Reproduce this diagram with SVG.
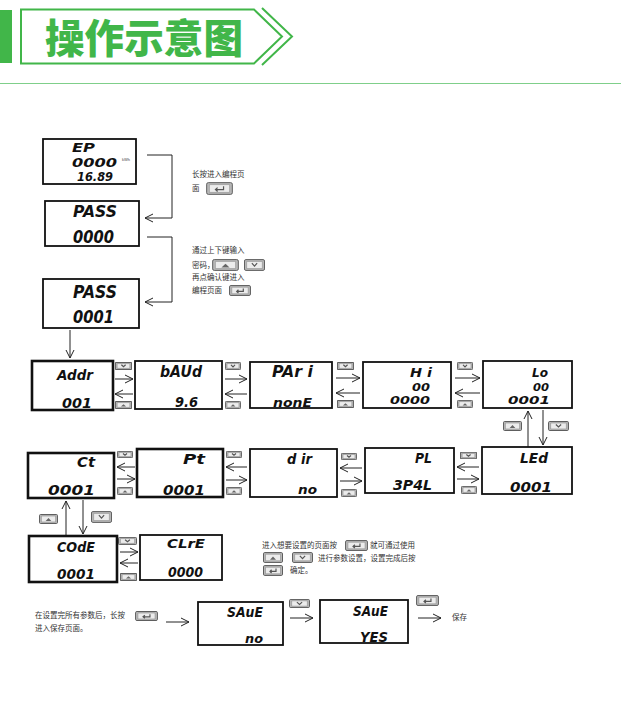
<svg xmlns="http://www.w3.org/2000/svg" xmlns:xlink="http://www.w3.org/1999/xlink" width="621" height="711" viewBox="0 0 621 711">
<style>
.box{fill:#fff;stroke:#111;stroke-width:1.8}
.thick{stroke-width:2.6}
.lcd{font-family:"DejaVu Sans","Liberation Sans",sans-serif;font-weight:bold;font-style:italic;fill:#111}
.cn{font-family:"Noto Sans CJK SC","Noto Sans",sans-serif;font-size:7.5px;fill:#333}
.ln{fill:none;stroke:#222;stroke-width:1}
.bf{fill:#b9b9b9;stroke:#5e5e5e;stroke-width:1;vector-effect:non-scaling-stroke}
.bi{fill:#ececec;stroke:#8a8a8a;stroke-width:.6;vector-effect:non-scaling-stroke}
.ic{fill:none;stroke:#555;stroke-width:1.2;vector-effect:non-scaling-stroke}
</style>
<defs>
<marker id="ah" markerUnits="userSpaceOnUse" markerWidth="10" markerHeight="10" refX="8" refY="4" orient="auto" viewBox="0 0 10 8">
<path d="M0,0 L8,4 L0,8" fill="none" stroke="#222" stroke-width="1"/>
</marker>
<symbol id="bUp" viewBox="0 0 20 10" preserveAspectRatio="none">
<rect class="bf" x="0.5" y="0.5" width="19" height="9" rx="1.2"/>
<rect class="bi" x="2.5" y="2" width="15" height="6"/>
<path d="M7,7 L10,4 L13,7 Z" fill="#666"/>
</symbol>
<symbol id="bDn" viewBox="0 0 20 10" preserveAspectRatio="none">
<rect class="bf" x="0.5" y="0.5" width="19" height="9" rx="1.2"/>
<rect class="bi" x="2.5" y="2" width="15" height="6"/>
<path class="ic" d="M7.5,3.5 L10,6 L12.5,3.5"/>
</symbol>
<symbol id="bEn" viewBox="0 0 20 10" preserveAspectRatio="none">
<rect class="bf" x="0.5" y="0.5" width="19" height="9" rx="1.2"/>
<rect class="bi" x="2.5" y="2" width="15" height="6"/>
<path class="ic" d="M13,3.2 V5.8 H7 M8.6,4.3 L7,5.8 L8.6,7.3"/>
</symbol>
</defs>
<rect width="621" height="711" fill="#fff"/>

<g id="header">
<rect x="0" y="10" width="12" height="53" fill="#41b649"/>
<path d="M21,9.5 H254 L282,36.5 L254,63.5 H21 Z" fill="none" stroke="#41b649" stroke-width="2"/>
<path d="M262,8 L292,36.5 L262,65" fill="none" stroke="#41b649" stroke-width="2"/>
<text x="45" y="53" font-family="Noto Sans CJK SC, sans-serif" font-weight="900" font-size="40" fill="#41b649" textLength="198" lengthAdjust="spacingAndGlyphs">操作示意图</text>
<line x1="0" y1="83.5" x2="621" y2="83.5" stroke="#7fcf8a" stroke-width="1"/>
</g>

<g id="connectors">
<polyline class="ln" points="147,155 172,155 172,218 145,218" marker-end="url(#ah)"/>
<polyline class="ln" points="147,237 172,237 172,302 145,302" marker-end="url(#ah)"/>
<line class="ln" x1="70" y1="330" x2="70" y2="358" marker-end="url(#ah)"/>
<line class="ln" x1="115" y1="379" x2="133" y2="379" marker-end="url(#ah)"/>
<line class="ln" x1="133" y1="394" x2="115" y2="394" marker-end="url(#ah)"/>
<line class="ln" x1="225" y1="379" x2="247" y2="379" marker-end="url(#ah)"/>
<line class="ln" x1="247" y1="394" x2="225" y2="394" marker-end="url(#ah)"/>
<line class="ln" x1="336" y1="378" x2="360" y2="378" marker-end="url(#ah)"/>
<line class="ln" x1="360" y1="393" x2="336" y2="393" marker-end="url(#ah)"/>
<line class="ln" x1="455" y1="378" x2="480" y2="378" marker-end="url(#ah)"/>
<line class="ln" x1="480" y1="393" x2="455" y2="393" marker-end="url(#ah)"/>
<line class="ln" x1="528" y1="447" x2="528" y2="411" marker-end="url(#ah)"/>
<line class="ln" x1="543" y1="410" x2="543" y2="445" marker-end="url(#ah)"/>
<line class="ln" x1="135" y1="467" x2="117" y2="467" marker-end="url(#ah)"/>
<line class="ln" x1="117" y1="479" x2="135" y2="479" marker-end="url(#ah)"/>
<line class="ln" x1="247" y1="467" x2="226" y2="467" marker-end="url(#ah)"/>
<line class="ln" x1="226" y1="480" x2="247" y2="480" marker-end="url(#ah)"/>
<line class="ln" x1="362" y1="468" x2="340" y2="468" marker-end="url(#ah)"/>
<line class="ln" x1="340" y1="481" x2="362" y2="481" marker-end="url(#ah)"/>
<line class="ln" x1="479" y1="467" x2="457" y2="467" marker-end="url(#ah)"/>
<line class="ln" x1="457" y1="479" x2="479" y2="479" marker-end="url(#ah)"/>
<line class="ln" x1="66" y1="535" x2="66" y2="501" marker-end="url(#ah)"/>
<line class="ln" x1="83" y1="500" x2="83" y2="534" marker-end="url(#ah)"/>
<line class="ln" x1="120" y1="552" x2="138" y2="552" marker-end="url(#ah)"/>
<line class="ln" x1="138" y1="563" x2="120" y2="563" marker-end="url(#ah)"/>
<line class="ln" x1="166" y1="622" x2="189" y2="622" marker-end="url(#ah)"/>
<line class="ln" x1="290" y1="618" x2="313" y2="618" marker-end="url(#ah)"/>
<line class="ln" x1="418" y1="618" x2="441" y2="618" marker-end="url(#ah)"/>
</g>

<g id="buttons">
<use xlink:href="#bEn" x="206" y="182" width="27" height="13"/>
<use xlink:href="#bUp" x="212" y="259" width="27" height="12"/>
<use xlink:href="#bDn" x="244" y="259" width="21" height="12"/>
<use xlink:href="#bEn" x="229" y="285" width="22" height="11"/>
<use xlink:href="#bDn" x="115" y="362" width="17" height="8"/>
<use xlink:href="#bUp" x="115" y="401" width="17" height="8"/>
<use xlink:href="#bDn" x="225" y="362" width="16" height="8"/>
<use xlink:href="#bUp" x="225" y="401" width="16" height="8"/>
<use xlink:href="#bDn" x="337" y="362" width="17" height="8"/>
<use xlink:href="#bUp" x="337" y="400" width="17" height="8"/>
<use xlink:href="#bDn" x="457" y="362" width="16" height="8"/>
<use xlink:href="#bUp" x="457" y="400" width="16" height="8"/>
<use xlink:href="#bUp" x="503" y="421" width="19" height="10"/>
<use xlink:href="#bDn" x="548" y="421" width="21" height="10"/>
<use xlink:href="#bDn" x="117" y="451" width="16" height="7"/>
<use xlink:href="#bUp" x="117" y="487" width="16" height="8"/>
<use xlink:href="#bDn" x="226" y="451" width="16" height="7"/>
<use xlink:href="#bUp" x="226" y="487" width="16" height="8"/>
<use xlink:href="#bDn" x="341" y="453" width="16" height="7"/>
<use xlink:href="#bUp" x="341" y="489" width="16" height="8"/>
<use xlink:href="#bDn" x="460" y="452" width="17" height="7"/>
<use xlink:href="#bUp" x="461" y="486" width="16" height="8"/>
<use xlink:href="#bUp" x="39" y="514" width="19" height="10"/>
<use xlink:href="#bDn" x="91" y="511" width="21" height="12"/>
<use xlink:href="#bDn" x="118" y="537" width="19" height="8"/>
<use xlink:href="#bUp" x="120" y="573" width="17" height="8"/>
<use xlink:href="#bEn" x="345" y="540" width="23" height="11"/>
<use xlink:href="#bUp" x="263" y="552" width="20" height="11"/>
<use xlink:href="#bDn" x="292" y="552" width="21" height="11"/>
<use xlink:href="#bEn" x="263" y="565" width="20" height="11"/>
<use xlink:href="#bEn" x="135" y="611" width="23" height="10"/>
<use xlink:href="#bDn" x="289" y="599" width="21" height="9"/>
<use xlink:href="#bEn" x="416" y="595" width="23" height="11"/>
</g>

<g id="notes">
<text class="cn" x="192" y="177">长按进入编程页</text>
<text class="cn" x="192" y="191">面</text>
<text class="cn" x="192" y="253">通过上下键输入</text>
<text class="cn" x="192" y="268">密码，</text>
<text class="cn" x="192" y="280">再点确认键进入</text>
<text class="cn" x="192" y="293">编程页面</text>
<text class="cn" x="262" y="548">进入想要设置的页面按</text>
<text class="cn" x="370" y="548">就可通过使用</text>
<text class="cn" x="318" y="561">进行参数设置，设置完成后按</text>
<text class="cn" x="290" y="573">确定。</text>
<text class="cn" x="35" y="618">在设置完所有参数后，长按</text>
<text class="cn" x="35" y="631">进入保存页面。</text>
<text class="cn" x="452" y="620" font-size="7">保存</text>
</g>

<g id="n-ep"><rect class="box" x="43" y="139" width="93" height="45"/>
<text class="lcd" x="72" y="152" font-size="12.5" textLength="23" lengthAdjust="spacingAndGlyphs">EP</text>
<text class="lcd" x="72" y="166.5" font-size="12.5" textLength="45" lengthAdjust="spacingAndGlyphs">0000</text>
<text x="122" y="161" font-family="Liberation Sans, sans-serif" font-size="4" fill="#444">kWh</text>
<text class="lcd" x="77" y="180.5" font-size="12" textLength="36" lengthAdjust="spacingAndGlyphs">16.89</text></g>

<g id="n-pass0"><rect class="box" x="45" y="201" width="94" height="45"/>
<text class="lcd" x="73" y="217" font-size="16" textLength="44" lengthAdjust="spacingAndGlyphs">PASS</text>
<text class="lcd" x="73" y="243" font-size="17" textLength="41" lengthAdjust="spacingAndGlyphs">0000</text></g>

<g id="n-pass1"><rect class="box" x="43" y="279" width="96" height="49"/>
<text class="lcd" x="73" y="298" font-size="17" textLength="44" lengthAdjust="spacingAndGlyphs">PASS</text>
<text class="lcd" x="73" y="323" font-size="17" textLength="41" lengthAdjust="spacingAndGlyphs">0001</text></g>

<g id="n-addr"><rect class="box thick" x="32" y="361" width="81" height="49"/>
<text class="lcd" x="57" y="380" font-size="14" textLength="36" lengthAdjust="spacingAndGlyphs">Addr</text>
<text class="lcd" x="62" y="408" font-size="14" textLength="30" lengthAdjust="spacingAndGlyphs">001</text></g>

<g id="n-baud"><rect class="box" x="135" y="361" width="87" height="48"/>
<text class="lcd" x="160" y="377" font-size="15" textLength="42" lengthAdjust="spacingAndGlyphs">bAUd</text>
<text class="lcd" x="175" y="407" font-size="14" textLength="23" lengthAdjust="spacingAndGlyphs">9.6</text></g>

<g id="n-pari"><rect class="box" x="250" y="362" width="82" height="46"/>
<text class="lcd" x="272" y="377" font-size="15" textLength="41" lengthAdjust="spacingAndGlyphs">PAr i</text>
<text class="lcd" x="273" y="407" font-size="13" textLength="39" lengthAdjust="spacingAndGlyphs">nonE</text></g>

<g id="n-hi"><rect class="box" x="363" y="362" width="88" height="46"/>
<text class="lcd" x="410" y="377" font-size="12" textLength="22" lengthAdjust="spacingAndGlyphs">H i</text>
<text class="lcd" x="412" y="390.5" font-size="11" textLength="18" lengthAdjust="spacingAndGlyphs">00</text>
<text class="lcd" x="390" y="404" font-size="11" textLength="40" lengthAdjust="spacingAndGlyphs">0000</text></g>

<g id="n-lo"><rect class="box" x="483" y="361" width="89" height="47"/>
<text class="lcd" x="532" y="377" font-size="12" textLength="16" lengthAdjust="spacingAndGlyphs">Lo</text>
<text class="lcd" x="533" y="390.5" font-size="11" textLength="16" lengthAdjust="spacingAndGlyphs">00</text>
<text class="lcd" x="508" y="404" font-size="11" textLength="42" lengthAdjust="spacingAndGlyphs">0001</text></g>

<g id="n-ct"><rect class="box thick" x="28" y="453" width="86" height="45"/>
<text class="lcd" x="77" y="467" font-size="14" textLength="18" lengthAdjust="spacingAndGlyphs">Ct</text>
<text class="lcd" x="48" y="495" font-size="14" textLength="47" lengthAdjust="spacingAndGlyphs">0001</text></g>

<g id="n-pt"><rect class="box thick" x="137" y="449" width="86" height="48"/>
<text class="lcd" x="183" y="464" font-size="14" textLength="22" lengthAdjust="spacingAndGlyphs">Pt</text>
<text class="lcd" x="163" y="495" font-size="14" textLength="42" lengthAdjust="spacingAndGlyphs">0001</text></g>

<g id="n-dir"><rect class="box" x="250" y="449" width="87" height="48"/>
<text class="lcd" x="287" y="464" font-size="14" textLength="25" lengthAdjust="spacingAndGlyphs">d ir</text>
<text class="lcd" x="298" y="494" font-size="13" textLength="19" lengthAdjust="spacingAndGlyphs">no</text></g>

<g id="n-pl"><rect class="box" x="365" y="448" width="89" height="45"/>
<text class="lcd" x="415" y="463" font-size="14" textLength="17" lengthAdjust="spacingAndGlyphs">PL</text>
<text class="lcd" x="393" y="490" font-size="14" textLength="39" lengthAdjust="spacingAndGlyphs">3P4L</text></g>

<g id="n-led"><rect class="box" x="482" y="447" width="90" height="47"/>
<text class="lcd" x="520" y="463" font-size="14" textLength="28" lengthAdjust="spacingAndGlyphs">LEd</text>
<text class="lcd" x="510" y="492" font-size="14" textLength="42" lengthAdjust="spacingAndGlyphs">0001</text></g>

<g id="n-code"><rect class="box thick" x="29" y="536" width="88" height="46"/>
<text class="lcd" x="57" y="552" font-size="14" textLength="38" lengthAdjust="spacingAndGlyphs">COdE</text>
<text class="lcd" x="57" y="579" font-size="14" textLength="38" lengthAdjust="spacingAndGlyphs">0001</text></g>

<g id="n-clre"><rect class="box" x="140" y="535" width="82" height="45"/>
<text class="lcd" x="167" y="548" font-size="13" textLength="38" lengthAdjust="spacingAndGlyphs">CLrE</text>
<text class="lcd" x="168" y="577" font-size="14" textLength="35" lengthAdjust="spacingAndGlyphs">0000</text></g>

<g id="n-save-no"><rect class="box" x="198" y="602" width="85" height="43"/>
<text class="lcd" x="227" y="617" font-size="14" textLength="36" lengthAdjust="spacingAndGlyphs">SAuE</text>
<text class="lcd" x="245" y="643" font-size="12" textLength="18" lengthAdjust="spacingAndGlyphs">no</text></g>

<g id="n-save-yes"><rect class="box" x="320" y="600" width="88" height="43"/>
<text class="lcd" x="353" y="616" font-size="14" textLength="35" lengthAdjust="spacingAndGlyphs">SAuE</text>
<text class="lcd" x="360" y="642" font-size="14" textLength="28" lengthAdjust="spacingAndGlyphs">YES</text></g>
</svg>
